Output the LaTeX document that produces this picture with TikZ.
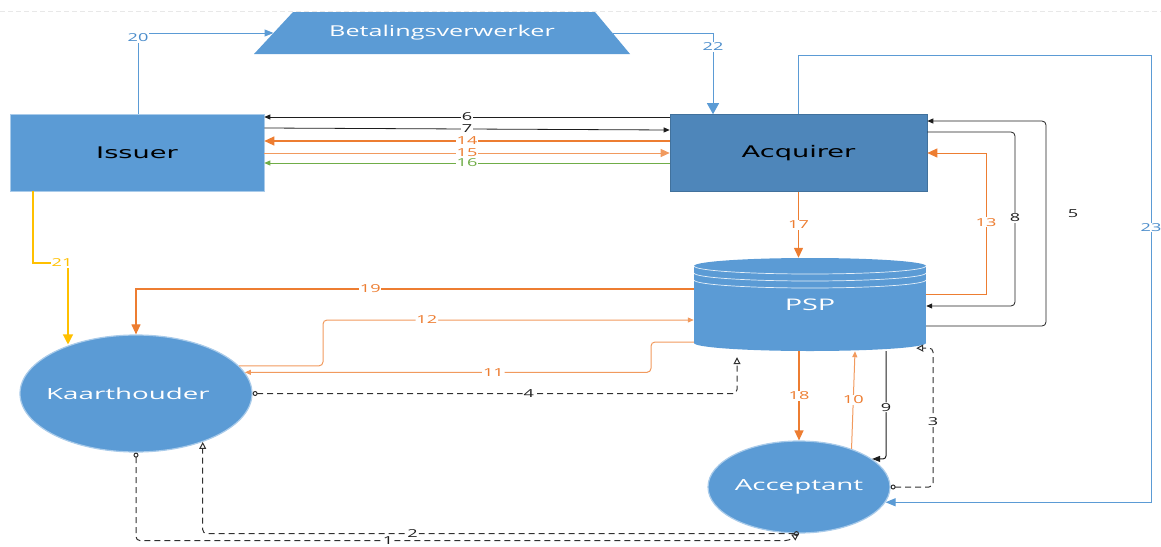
\documentclass[tikz,border=0pt]{standalone}
\usepackage{fontspec}
\usetikzlibrary{arrows.meta,calc,shapes.geometric}
\newfontfamily\boxfont[FakeStretch=1.7]{DejaVu Sans}
\newfontfamily\whitefont[FakeStretch=1.8]{Open Sans}
\newfontfamily\titlefont[FakeStretch=1.68]{Open Sans}
\newfontfamily\numfont[FakeStretch=1.65]{Open Sans}
\definecolor{boxblue}{HTML}{5B9BD5}
\definecolor{acqblue}{HTML}{4E86BA}
\definecolor{acqedge}{HTML}{41719C}
\definecolor{glow}{HTML}{A9CBEA}
\definecolor{lineorange}{HTML}{ED7D31}
\definecolor{lightorange}{HTML}{F19A5E}
\definecolor{linegreen}{HTML}{70AD47}
\definecolor{lineblue}{HTML}{5B9BD5}
\definecolor{numblue}{HTML}{4A8CCB}
\definecolor{linegold}{HTML}{FFC000}
\definecolor{lineblack}{HTML}{1E1E1E}
\definecolor{dashgrey}{HTML}{303030}
\begin{document}
\begin{tikzpicture}[x=1pt,y=-1pt,
  issbox/.style={rectangle, fill=boxblue, draw=glow, line width=0.6pt,
    minimum width=254pt, minimum height=77pt,
    font=\boxfont\fontsize{16}{16}\selectfont, text=black},
  acqbox/.style={rectangle, fill=acqblue, draw=acqedge, line width=0.6pt,
    minimum width=257pt, minimum height=77pt,
    font=\boxfont\fontsize{16}{16}\selectfont, text=black},
  partyshape/.style={ellipse, fill=boxblue, draw=glow, line width=1.2pt,
    inner sep=0pt, text=white, font=\whitefont\fontsize{15.4}{15.4}\selectfont},
  lbl/.style={fill=white, inner sep=0.8pt, text=lineblack,
    font=\numfont\fontsize{11}{11}\selectfont},
  blk/.style={draw=lineblack, line width=0.8pt, -{Triangle[length=6pt,width=5pt]}},
  org/.style={draw=lineorange, line width=1.3pt, -{Triangle[length=10pt,width=9pt]}},
  orglight/.style={draw=lightorange, line width=1pt, -{Triangle[length=6pt,width=5pt]}},
  grn/.style={draw=linegreen, line width=0.8pt, -{Triangle[length=6pt,width=5pt]}},
  blu/.style={draw=lineblue, line width=1pt},
  dsh/.style={draw=dashgrey, line width=1pt, dash pattern=on 6pt off 4pt,
    rounded corners=4pt,
    {Circle[open,length=5pt,width=5pt]}-{Triangle[open,length=7pt,width=7pt]}}
]
\useasboundingbox (0,0) rectangle (1161,546);

% faint page rule at the top
\draw[gray!18, line width=0.8pt, dash pattern=on 5pt off 3pt] (0,11.5) -- (1161,11.5);

% payment processor (trapezoid)
\fill[boxblue] (293,12) -- (595,12) -- (630,54) -- (254,54) -- cycle;
\node[text=white, font=\titlefont\fontsize{15}{15}\selectfont] (betal) at (442,33) {Betalingsverwerker};
\coordinate (betalW) at (273.5,33);
\coordinate (betalE) at (612.5,33);

% banks
\node[issbox] (iss) at (137,152.5) {Issuer};
\node[acqbox] (acq) at (798.5,153) {Acquirer};

% PSP cylinder
\fill[boxblue] (694,266) rectangle (926,343);
\fill[boxblue] (810,266) ellipse [x radius=116, y radius=8];
\fill[boxblue] (810,343) ellipse [x radius=116, y radius=8];
\foreach \c in {266,273,280}{
  \draw[white, line width=0.7pt, opacity=0.85]
    (694,\c) .. controls (694,\c+4.42) and (745.9,\c+8) .. (810,\c+8)
    .. controls (874.1,\c+8) and (926,\c+4.42) .. (926,\c);
}
\node[inner sep=0pt, minimum width=232pt, minimum height=93pt, text=white,
  font=\whitefont\fontsize{16}{16}\selectfont] (psp) at (810,304.5) {PSP};

% card holder and merchant
\node[partyshape, minimum width=232pt, minimum height=117pt] (kh) at (136,393.5) {\makebox[0pt]{Kaarthouder\kern16pt}};
\node[partyshape, minimum width=182pt, minimum height=92pt] (acc) at (799,487) {\makebox[0pt]{Acceptant}};

% issuer <-> acquirer
\draw[blk] (acq.west |- 0,117) -- node[lbl]{6} (iss.east |- 0,117);
\draw[blk] (iss.east |- 0,128) -- node[lbl]{7} (acq.west |- 0,130);
\draw[org] (acq.west |- 0,141) -- node[lbl,text=lineorange]{14} (iss.east |- 0,141);
\draw[orglight, -{Triangle[length=9pt,width=8pt]}] (iss.east |- 0,153) -- node[lbl,text=lineorange]{15} (acq.west |- 0,153);
\draw[grn] (acq.west |- 0,163) -- node[lbl,text=linegreen]{16} (iss.east |- 0,163);

% via the payment processor
\draw[blu, -{Triangle[length=9pt,width=7pt]}] (iss.north -| 138,0) |- node[lbl,text=numblue,pos=0.47]{20} (betalW);
\draw[blu, -{Triangle[length=11pt,width=12pt]}] (betalE) -| node[lbl,text=numblue,pos=0.585]{22} (acq.north -| 713,0);

% acquirer -> merchant
\draw[blu, -{Triangle[length=10pt,width=8pt]}] (acq.north) |- (1151,55) |- node[lbl,text=numblue,pos=0.193]{23} (acc.-10);

% issuer -> card holder
\draw[draw=linegold, line width=1.2pt, -{Triangle[length=10pt,width=10pt]}]
  (iss.south -| 33,0) |- node[lbl,text=linegold,pos=0.915]{21} (68,263) -- (kh.143 -| 68,0);

% acquirer <-> PSP
\draw[org] (acq.south) -- node[lbl,text=lineorange]{17} (acq.south |- psp.north);
\draw[org, line width=1pt] (psp.east |- 0,294) -| node[lbl,text=lineorange,pos=0.755]{13} (986,153) -- (acq.east |- 0,153);
\draw[blk, rounded corners=4pt] (acq.east |- 0,132) -| node[lbl,pos=0.747]{8} (1015,306) -- (psp.east |- 0,306);
\draw[blk, rounded corners=4pt] (psp.east |- 0,326) -| (1046,121) -- (acq.east |- 0,121);
\node[lbl, fill=none] (l5) at (1073,214) {5};

% PSP <-> card holder
\draw[org, line width=1.1pt] (psp.west |- 0,289) -| node[lbl,text=lineorange,pos=0.29]{19} (kh.north);
\draw[orglight, rounded corners=4pt] (kh.15) -| (323,320) -- node[lbl,text=lineorange,pos=0.28]{12} (psp.west |- 0,320);
\draw[orglight, rounded corners=4pt] (psp.west |- 0,342) -- (651,342) |- node[lbl,text=lineorange,pos=0.694]{11} (kh.11);
\draw[dsh] (kh.east) -| node[lbl,pos=0.285]{4} ($(psp.south -| 737,0)+(0,6)$);

% PSP <-> merchant
\draw[org] (acc.north |- psp.south) -- node[lbl,text=lineorange]{18} (acc.north);
\draw[orglight] (acc.36) -- node[lbl,text=lineorange]{10} (psp.south -| 855,0);
\draw[draw=lineblack, line width=1pt, rounded corners=3pt, -{Triangle[length=8pt,width=6pt]}]
  (psp.south -| 886,0) |- node[lbl,pos=0.26]{9} (acc.21);
\draw[dsh] (acc.east) -| node[lbl,pos=0.734]{3} (933,348) -- ($(psp.south east)+(-10,-3)$);

% merchant <-> card holder
\draw[dsh] (acc.south) -| node[lbl,pos=0.324]{2} (kh.-36);
\draw[dsh] (kh.south) |- node[lbl,pos=0.693]{1} ($(acc.south)+(-10,7)$) -- (acc.south);
\end{tikzpicture}
\end{document}
